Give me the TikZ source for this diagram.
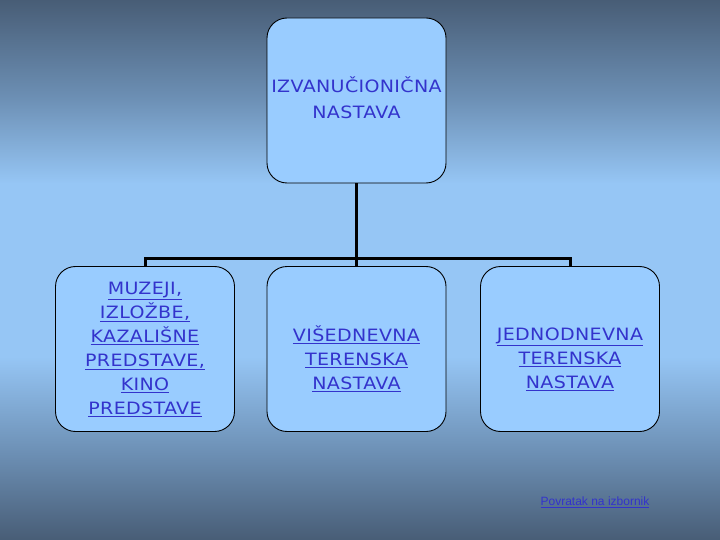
\documentclass[tikz,border=0pt]{standalone}
\usepackage{fontspec}
\setmainfont{DejaVu Sans}[FakeStretch=1.12, LetterSpace=2]
\newfontfamily\linkfont{Liberation Sans}
\usetikzlibrary{positioning}

\definecolor{bgdark}{RGB}{72,93,118}
\definecolor{bgmid}{RGB}{108,143,180}
\definecolor{bglight}{RGB}{150,198,245}
\definecolor{boxfill}{RGB}{153,204,255}
\definecolor{txtblue}{RGB}{51,51,204}

\pgfdeclareverticalshading{slidebg}{100bp}{color(0bp)=(bgdark); color(25bp)=(bgdark);
  color(33bp)=(bgmid); color(42bp)=(bglight); color(50bp)=(bglight);
  color(58bp)=(bglight); color(66bp)=(bgmid); color(75bp)=(bgdark); color(100bp)=(bgdark)}

\newcommand{\ul}[1]{\underline{#1}}

\begin{document}
\begin{tikzpicture}[x=1pt,y=-1pt]
\tikzset{box/.style={draw=black, line width=0.9pt, fill=boxfill, rounded corners=20pt,
    minimum width=179pt, minimum height=165pt},
  boxtext/.style={align=center, text=txtblue, font=\fontsize{17}{24}\selectfont, inner sep=0pt},
  link/.style={line width=3pt, black}}
    % background
    \shade[shading=slidebg] (0,0) rectangle (720,540);
    \useasboundingbox (0,0) rectangle (720,540);

    \node[box] (izv) at (356.5,100.5) {};
    \node[box] (muz) at (145,349) {};
    \node[box] (vis) at (356.5,349) {};
    \node[box] (jed) at (570,349) {};

    \node[boxtext, font=\fontsize{17}{26}\selectfont] (izvtxt) at ([yshift=3pt]izv.center) {IZVANUČIONIČNA\\NASTAVA};
    \node[boxtext] (muztxt) at (muz.center) {\ul{MUZEJI,}\\\ul{IZLOŽBE,}\\\ul{KAZALIŠNE}\\\ul{PREDSTAVE,}\\\ul{KINO}\\\ul{PREDSTAVE}};
    \node[boxtext] (vistxt) at ([yshift=-10pt]vis.center) {\ul{VIŠEDNEVNA}\\\ul{TERENSKA}\\\ul{NASTAVA}};
    \node[boxtext] (jedtxt) at ([yshift=-10pt]jed.center) {\ul{JEDNODNEVNA}\\\ul{TERENSKA}\\\ul{NASTAVA}};

    \coordinate (bar) at (356.5,258);
    \draw[link] (izv.south) -- (vis.north);
    \draw[link] (muz.north) |- (bar) -| (jed.north);

    \node[text=txtblue, font=\linkfont\fontsize{12}{14}\selectfont] (back) at (595,502) {\ul{Povratak na izbornik}};
\end{tikzpicture}
\end{document}
